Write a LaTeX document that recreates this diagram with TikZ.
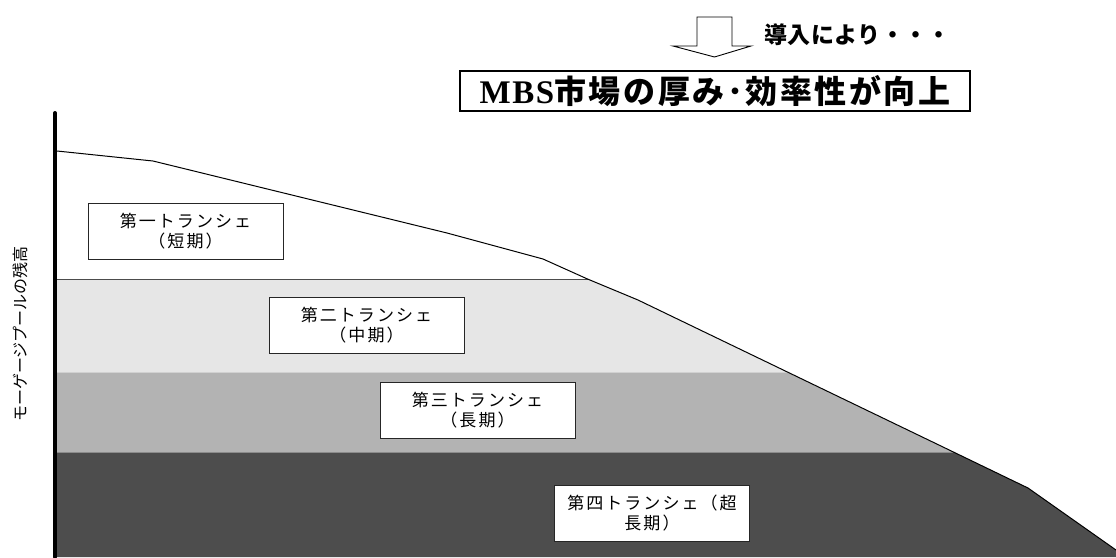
\documentclass[tikz,border=0pt]{standalone}
\usepackage{fontspec}
\setmainfont{Liberation Serif}
\newfontfamily\mbsfont[LetterSpace=5]{Liberation Serif}
\newfontfamily\jpbox[LetterSpace=8]{Noto Sans CJK JP}
\newfontfamily\jptop[LetterSpace=2]{Noto Sans CJK JP}
\newfontfamily\jplab[LetterSpace=12]{Noto Sans CJK JP}
\newfontfamily\jpaxis{Noto Sans CJK JP}
\definecolor{bandA}{HTML}{E6E6E6}
\definecolor{bandB}{HTML}{B3B3B3}
\definecolor{bandC}{HTML}{4D4D4D}
\tikzset{
  trbox/.style={draw=black!85, line width=0.9pt, fill=white, minimum width=195pt, minimum height=56pt,
    inner sep=0pt, align=center, font=\jplab\fontsize{17}{20}\selectfont},
  curveline/.style={line width=1pt, black}
}
\begin{document}
\begin{tikzpicture}[x=1pt,y=-1pt]
\useasboundingbox (0,0) rectangle (1116,557);
% curve coordinates
\coordinate (c0) at (57,151);
\coordinate (c1) at (153,161);
\coordinate (c2) at (447,233);
\coordinate (c3) at (543,259);
\coordinate (i1) at (587.5,279);
\coordinate (c4) at (638,300);
\coordinate (i2) at (787.4,372);
\coordinate (i3) at (953.4,452);
\coordinate (c5) at (1028,488);
\coordinate (c6) at (1116,550);
% bands
\fill[bandA] (57,279) -- (i1) -- (c4) -- (i2) -- (57,372) -- cycle;
\fill[bandB] (57,372) -- (i2) -- (i3) -- (57,452) -- cycle;
\fill[bandC] (57,452) -- (i3) -- (c5) -- (c6) -- (1116,557) -- (57,557) -- cycle;
% band boundaries
\draw[line width=1pt, black!70] (57,279) -- (i1);
\draw[line width=1pt, black!18] (57,372) -- (i2);
\draw[line width=1pt, black!45] (57,452) -- (i3);
% curve
\draw[curveline] (c0) -- (c1) -- (c2) -- (c3) -- (i1) -- (c4) -- (i2) -- (i3) -- (c5) -- (c6);
% axis
\draw[line width=4pt, line cap=round] (55,113) -- (55,557);
% axis label
\node[rotate=90, inner sep=0pt, font=\jpaxis\fontsize{16}{16}\selectfont] (ylab) at (20,334) {モーゲージプールの残高};
% tranche boxes
\node[trbox] (t1) at (185.5,231) {第一トランシェ\\（短期）};
\node[trbox] (t2) at (366.5,325) {第二トランシェ\\（中期）};
\node[trbox] (t3) at (477.5,410) {第三トランシェ\\（長期）};
\node[trbox] (t4) at (652,513) {第四トランシェ（超\\長期）};
% hollow arrow
\draw[line width=0.9pt, fill=white] (697,17) -- (732,17) -- (732,46) -- (751,46) -- (714.5,57) -- (673,46) -- (697,46) -- cycle;
\node[anchor=west, inner sep=0pt, font=\jptop\bfseries\fontsize{23}{23}\selectfont] (intro) at (764,35) {導入により・・・};
% result box
\node[draw, line width=1.2pt, minimum width=510pt, minimum height=40pt, inner sep=0pt] (res) at (715,91)
  {\bfseries{\mbsfont\fontsize{33}{33}\selectfont MBS}{\jpbox\fontsize{32}{32}\selectfont 市場の厚み･効率性が向上}};
\end{tikzpicture}
\end{document}
